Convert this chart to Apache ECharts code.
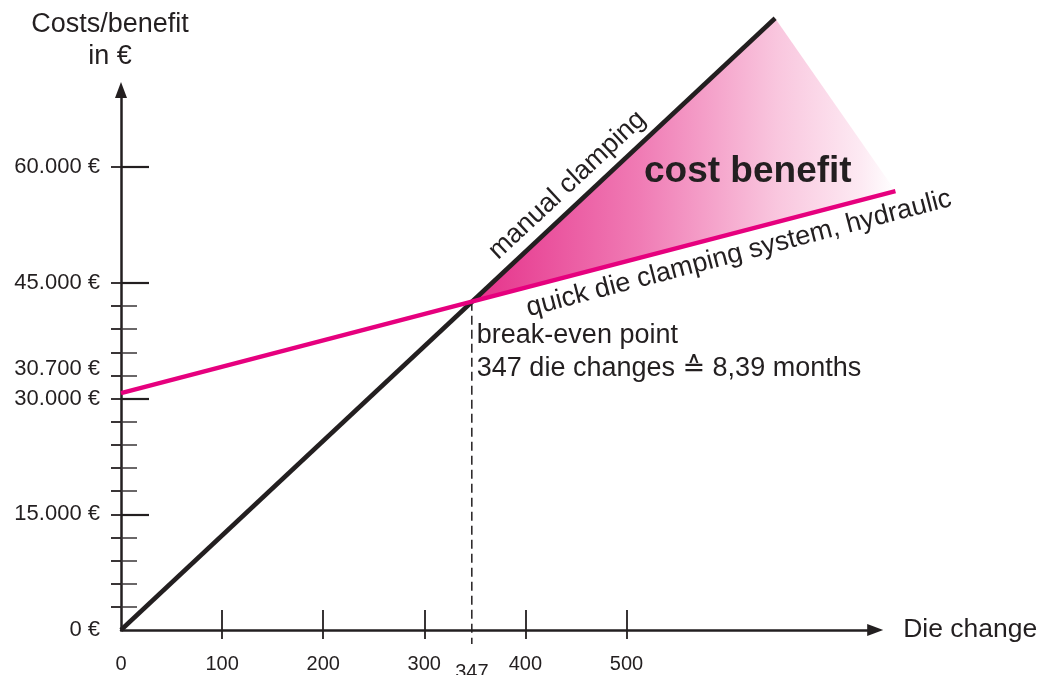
<!DOCTYPE html>
<html>
<head>
<meta charset="utf-8">
<title>Break-even: manual clamping vs. quick die clamping</title>
<script src="https://cdn.jsdelivr.net/npm/echarts@6/dist/echarts.min.js"></script>
<style>
  html, body { margin: 0; padding: 0; background: #fff; }
  #chart { width: 1041px; height: 675px; }
</style>
</head>
<body>
<div id="chart"></div>
<script>
// Cost lines: [die changes, costs in €]
const manualX = [0, 647];
const manualCost = [0, 79300];
const hydraulicX = [0, 766];
const hydraulicCost = [30700, 56900];

// Break-even point: die changes and cost at the crossing
const breakEvenX = 347;
const breakEvenCost = 42550;
// Lower end of the dashed break-even marker (just below the x axis)
const breakEvenDropTo = -1800;

// Axis ticks and labels
const xTickValues = [100, 200, 300, 400, 500];
const xLabelValues = [0, 100, 200, 300, 347, 400, 500];
const yMajorTicks = [15000, 30000, 45000, 60000];
const yMinorTicks = [3000, 6000, 9000, 12000, 18000, 21000, 24000, 27000, 33000, 36000, 39000, 42000];
const yLabelValues = [0, 15000, 30000, 30700, 45000, 60000];

const INK = '#231f20';
const PINK = '#e6007e';
const FONT = '"Liberation Sans", "DejaVu Sans", Arial, sans-serif';

function pairs(xs, ys) { return xs.map((x, i) => [x, ys[i]]); }
const manualData = pairs(manualX, manualCost);
const hydraulicData = pairs(hydraulicX, hydraulicCost);

function euro(v) {
  return String(v).replace(/\B(?=(\d{3})+(?!\d))/g, '.') + ' €';
}

function valueOnLine(data, x) {
  const [a, b] = data;
  return a[1] + (b[1] - a[1]) * (x - a[0]) / (b[0] - a[0]);
}

// Cost lines drawn as straight segments between their end points
const costLines = [
  { name: 'manual clamping', data: manualData, color: INK, width: 4.5, dash: null },
  { name: 'quick die clamping system, hydraulic', data: hydraulicData, color: PINK, width: 4.5, dash: null },
  { name: 'break-even', data: [[breakEvenX, breakEvenCost], [breakEvenX, breakEvenDropTo]], color: INK, width: 1.5, dash: [9, 5] }
];

// Labels written along the cost lines (anchor = die-change value on the line)
const lineLabels = [
  { text: 'manual clamping', data: manualData, at: 455, offset: -20 },
  { text: 'quick die clamping system, hydraulic', data: hydraulicData, at: 606, offset: 21 }
];

const chart = echarts.init(document.getElementById('chart'), null, { renderer: 'canvas' });

const X_MAX = 746, Y_MAX = 70000;

const baseX = { type: 'value', min: 0, max: X_MAX, position: 'bottom', splitLine: { show: false } };
const baseY = { type: 'value', min: 0, max: Y_MAX, position: 'left', splitLine: { show: false } };

function segmentSeries(line, z) {
  return {
    name: line.name,
    type: 'custom',
    clip: false,
    silent: true,
    z: z,
    data: line.data,
    renderItem: (params, api) => {
      if (params.dataIndex !== 0) return null;
      const p1 = api.coord(line.data[0]);
      const p2 = api.coord(line.data[1]);
      return {
        type: 'line',
        shape: { x1: p1[0], y1: p1[1], x2: p2[0], y2: p2[1] },
        style: { stroke: line.color, lineWidth: line.width, lineDash: line.dash, lineCap: 'butt' }
      };
    }
  };
}

chart.setOption({
  animation: false,
  backgroundColor: '#ffffff',
  grid: { left: 121, right: 165.8, top: 90, bottom: 45, containLabel: false, outerBoundsMode: 'none' },
  xAxis: [
    Object.assign({}, baseX, {
      name: 'Die change',
      nameLocation: 'end',
      nameGap: 28,
      nameMoveOverlap: false,
      nameTextStyle: { fontFamily: FONT, fontSize: 26.5, color: INK, align: 'left', verticalAlign: 'middle', padding: [12, 0, 0, 0] },
      axisLine: { show: true, onZero: false, symbol: ['none', 'triangle'], symbolSize: [12, 16], lineStyle: { color: INK, width: 2.5 } },
      axisTick: { show: true, inside: true, length: 20, customValues: xTickValues, lineStyle: { color: INK, width: 1.8 } },
      axisLabel: {
        show: true, customValues: xLabelValues, margin: 24,
        fontFamily: FONT, fontSize: 20, color: INK,
        formatter: v => v === breakEvenX ? '{low|' + v + '}' : String(v),
        rich: { low: { fontFamily: FONT, fontSize: 20, color: INK, padding: [8, 0, 0, 0] } }
      }
    }),
    Object.assign({}, baseX, {
      axisLine: { show: false, onZero: false },
      axisTick: { show: true, inside: false, length: 9, customValues: xTickValues, lineStyle: { color: INK, width: 1.8 } },
      axisLabel: { show: false }
    })
  ],
  yAxis: [
    Object.assign({}, baseY, {
      name: 'Costs/benefit\nin €',
      nameLocation: 'end',
      nameGap: 17,
      nameMoveOverlap: false,
      nameTextStyle: { fontFamily: FONT, fontSize: 27, color: INK, align: 'center', verticalAlign: 'bottom', lineHeight: 32, padding: [0, 22, 0, 0] },
      axisLine: { show: true, onZero: false, symbol: ['none', 'triangle'], symbolSize: [12, 16], lineStyle: { color: INK, width: 2.5 } },
      axisTick: { show: true, inside: true, length: 28, customValues: yMajorTicks, lineStyle: { color: INK, width: 2.2 } },
      axisLabel: {
        show: true, customValues: yLabelValues, margin: 21,
        fontFamily: FONT, fontSize: 22, color: INK,
        formatter: v => v === hydraulicCost[0] ? '{up|' + euro(v) + '}' : euro(v),
        rich: { up: { fontFamily: FONT, fontSize: 22, color: INK, padding: [0, 0, 48, 0] } }
      }
    }),
    Object.assign({}, baseY, {
      axisLine: { show: false, onZero: false },
      axisTick: { show: true, inside: true, length: 16, customValues: yMinorTicks, lineStyle: { color: '#3a3637', width: 1.5 } },
      axisLabel: { show: false }
    }),
    Object.assign({}, baseY, {
      axisLine: { show: false, onZero: false },
      axisTick: { show: true, inside: false, length: 10, customValues: yMajorTicks.concat(yMinorTicks), lineStyle: { color: INK, width: 1.8 } },
      axisLabel: { show: false }
    })
  ],
  series: [
    {
      // Shaded cost benefit between the two lines, right of the break-even point
      name: 'cost benefit area',
      type: 'custom',
      clip: false,
      silent: true,
      z: 1,
      data: [[breakEvenX, breakEvenCost]],
      renderItem: (params, api) => {
        const pts = [
          api.coord([breakEvenX, breakEvenCost]),
          api.coord(manualData[1]),
          api.coord(hydraulicData[1])
        ];
        return {
          type: 'polygon',
          shape: { points: pts },
          style: {
            fill: new echarts.graphic.LinearGradient(0, 0, 1, 0, [
              { offset: 0, color: '#e5318a' },
              { offset: 0.4, color: '#f07cb5' },
              { offset: 0.72, color: '#f9c6de' },
              { offset: 0.92, color: '#fdeaf3' },
              { offset: 1, color: '#ffffff' }
            ])
          }
        };
      }
    },
    segmentSeries(costLines[2], 2),
    segmentSeries(costLines[0], 3),
    segmentSeries(costLines[1], 4),
    {
      // Rotated labels along each cost line
      name: 'line labels',
      type: 'custom',
      clip: false,
      silent: true,
      z: 5,
      data: lineLabels.map((l, i) => [l.at, valueOnLine(l.data, l.at), i]),
      renderItem: (params, api) => {
        const l = lineLabels[api.value(2)];
        const p = api.coord([api.value(0), api.value(1)]);
        const a = api.coord(l.data[0]);
        const b = api.coord(l.data[1]);
        const rot = Math.atan2(a[1] - b[1], b[0] - a[0]);
        return {
          type: 'group', x: p[0], y: p[1], rotation: rot,
          children: [{
            type: 'text', x: 0, y: l.offset,
            style: { text: l.text, fontFamily: FONT, fontSize: 27, fill: INK, align: 'center', verticalAlign: 'middle' }
          }]
        };
      }
    },
    {
      // Break-even annotation and the cost benefit caption
      name: 'annotations',
      type: 'custom',
      clip: false,
      silent: true,
      z: 5,
      data: [[breakEvenX, breakEvenCost, 0], [620, 59400, 1]],
      renderItem: (params, api) => {
        const p = api.coord([api.value(0), api.value(1)]);
        if (api.value(2) === 0) {
          return {
            type: 'text', x: p[0] + 5, y: p[1] + 17,
            style: {
              text: 'break-even point\n' + breakEvenX + ' die changes ≙ 8,39 months',
              fontFamily: FONT, fontSize: 27, lineHeight: 33, fill: INK, align: 'left', verticalAlign: 'top'
            }
          };
        }
        return {
          type: 'text', x: p[0], y: p[1],
          style: { text: 'cost benefit', fontFamily: FONT, fontSize: 37, fontWeight: 'bold', fill: INK, align: 'center', verticalAlign: 'middle' }
        };
      }
    }
  ]
});
</script>
</body>
</html>
